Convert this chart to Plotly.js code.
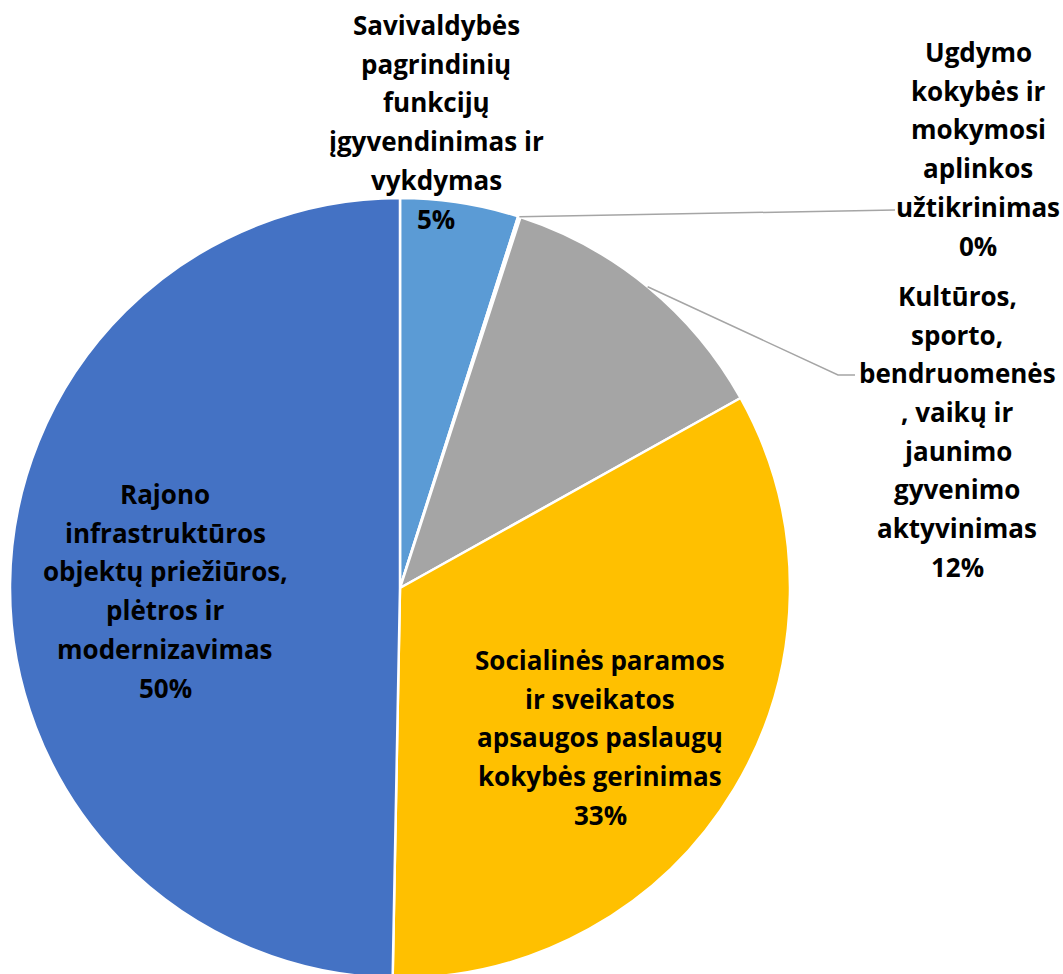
<!DOCTYPE html>
<html>
<head>
<meta charset="utf-8">
<script src="https://cdn.plot.ly/plotly-3.0.1.min.js"></script>
<style>
html,body{margin:0;padding:0;overflow:hidden;background:#fff;}
#chart{width:1063px;height:980px;}
</style>
</head>
<body>
<div id="chart"></div>
<script>
// ---- data ----
const categories = [
  "Savivaldybės pagrindinių funkcijų įgyvendinimas ir vykdymas",
  "Ugdymo kokybės ir mokymosi aplinkos užtikrinimas",
  "Kultūros, sporto, bendruomenės, vaikų ir jaunimo gyvenimo aktyvinimas",
  "Socialinės paramos ir sveikatos apsaugos paslaugų kokybės gerinimas",
  "Rajono infrastruktūros objektų priežiūros, plėtros ir modernizavimas"
];
const values = [4.9, 0.1, 11.9, 33.4, 49.7];
const labelLines = [
  ["Savivaldybės", "pagrindinių", "funkcijų", "įgyvendinimas ir", "vykdymas"],
  ["Ugdymo", "kokybės ir", "mokymosi", "aplinkos", "užtikrinimas"],
  ["Kultūros,", "sporto,", "bendruomenės", ", vaikų ir", "jaunimo", "gyvenimo", "aktyvinimas"],
  ["Socialinės paramos", "ir sveikatos", "apsaugos paslaugų", "kokybės gerinimas"],
  ["Rajono", "infrastruktūros", "objektų priežiūros,", "plėtros ir", "modernizavimas"]
];
const colors = ["#5B9BD5", "#ED7D31", "#A5A5A5", "#FFC000", "#4472C4"];

// ---- layout constants ----
const W = 1063, H = 980;
const cx = 400, cy = 588, R = 390;
const labelPos = [ [436, 25], [978, 52], [957, 296], [600, 660], [165, 494] ];
const lineGap = 38.7;
const fontSize = 26;
const leader = [null, [[895, 210]], [[838, 375], [855, 375]], null, null];

const px = x => x / W;
const py = y => 1 - y / H;

const total = values.reduce((a, b) => a + b, 0);
const pct = values.map(v => Math.round(v / total * 100) + "%");

const annotations = [];
labelLines.forEach((lines, i) => {
  const all = lines.concat([pct[i]]);
  all.forEach((t, j) => {
    annotations.push({
      text: t, xref: "paper", yref: "paper",
      x: px(labelPos[i][0]), y: py(labelPos[i][1] + j * lineGap),
      xanchor: "center", yanchor: "middle", showarrow: false,
      font: {family: "Open Sans, sans-serif", size: fontSize, color: "#000", weight: 700}
    });
  });
});

// leader lines from slice mid-angle on the rim
const shapes = [];
let cum = 0;
values.forEach((v, i) => {
  const mid = (cum + v / 2) / total * 2 * Math.PI;
  cum += v;
  if (!leader[i]) return;
  const ax = cx + R * Math.sin(mid), ay = cy - R * Math.cos(mid);
  let path = `M${px(ax)},${py(ay)}`;
  leader[i].forEach(p => { path += ` L${px(p[0])},${py(p[1])}`; });
  shapes.push({type: "path", xref: "paper", yref: "paper", path: path,
    line: {color: "#A5A5A5", width: 1.5}});
});

const trace = {
  type: "pie",
  labels: categories,
  values: values,
  sort: false,
  direction: "clockwise",
  rotation: 0,
  textinfo: "none",
  hoverinfo: "label+percent",
  marker: {colors: colors, line: {color: "#fff", width: 2.5}},
  domain: {x: [(cx - R) / W, (cx + R) / W], y: [(H - cy - R) / H, (H - cy + R) / H]},
  showlegend: false
};

const layout = {
  width: W, height: H,
  margin: {l: 0, r: 0, t: 0, b: 0},
  paper_bgcolor: "#fff",
  showlegend: false,
  annotations: annotations,
  shapes: shapes
};

Plotly.newPlot("chart", [trace], layout, {displayModeBar: false, staticPlot: true});
</script>
</body>
</html>
